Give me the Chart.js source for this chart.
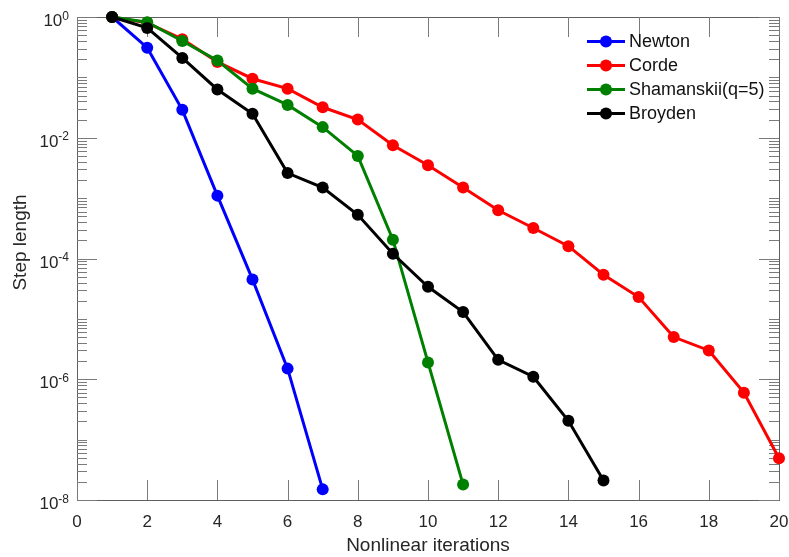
<!DOCTYPE html>
<html>
<head>
<meta charset="utf-8">
<script src="https://cdn.jsdelivr.net/npm/chart.js@4"></script>
<style>
  html, body { margin: 0; padding: 0; background: #fff; }
</style>
</head>
<body>
<canvas id="stepChart" width="789" height="557"></canvas>
<script>
// data (step length per nonlinear iteration)
const iterations = [1, 2, 3, 4, 5, 6, 7, 8, 9, 10, 11, 12, 13, 14, 15, 16, 17, 18, 19, 20];
const newton = [1, 0.31, 0.029, 1.1e-3, 4.5e-5, 1.5e-6, 1.5e-8];
const corde = [1, 0.8, 0.43, 0.18, 0.095, 0.065, 0.032, 0.02, 7.5e-3, 3.5e-3,
               1.5e-3, 6.3e-4, 3.2e-4, 1.6e-4, 5.4e-5, 2.3e-5, 5e-6, 3e-6, 6e-7, 4.9e-8];
const shamanskii = [1, 0.82, 0.4, 0.19, 0.065, 0.035, 0.015, 5e-3, 2.05e-4, 1.9e-6, 1.8e-8];
const broyden = [1, 0.66, 0.21, 0.063, 0.025, 2.6e-3, 1.5e-3, 5.3e-4, 1.2e-4, 3.4e-5,
                 1.3e-5, 2.1e-6, 1.1e-6, 2.05e-7, 2.1e-8];

const seriesNames = ["Newton", "Corde", "Shamanskii(q=5)", "Broyden"];
const xTickValues = [0, 2, 4, 6, 8, 10, 12, 14, 16, 18, 20];
const yTickValues = [1, 1e-2, 1e-4, 1e-6, 1e-8];
const yTickExps = ["0", "-2", "-4", "-6", "-8"];

const FONT = '"Liberation Sans", Arial, sans-serif';
const TEXT = "#262626";

function points(values) {
    return values.map((v, i) => ({ x: iterations[i], y: v }));
}

function makeSet(label, values, color, order) {
    return {
        label: label,
        data: points(values),
        borderColor: color,
        backgroundColor: color,
        pointBackgroundColor: color,
        pointBorderWidth: 0,
        pointRadius: 6,
        borderWidth: 3,
        tension: 0,
        clip: false,
        order: order
    };
}

// MATLAB-style frame: box, inward ticks, superscript labels, legend
const matlabAxes = {
    id: "matlabAxes",
    beforeDatasetsDraw(chart) {
        const ctx = chart.ctx;
        const a = chart.chartArea;
        const xs = chart.scales.x;
        const ys = chart.scales.y;
        ctx.save();
        ctx.strokeStyle = "#606060";
        ctx.lineWidth = 1;
        ctx.strokeRect(Math.round(a.left) + 0.5, Math.round(a.top) + 0.5,
                       Math.round(a.right - a.left), Math.round(a.bottom - a.top));

        ctx.strokeStyle = "#7a7a7a";
        ctx.beginPath();
        xTickValues.forEach(v => {
            const x = Math.round(xs.getPixelForValue(v)) + 0.5;
            ctx.moveTo(x, a.bottom); ctx.lineTo(x, a.bottom - 20);
            ctx.moveTo(x, a.top); ctx.lineTo(x, a.top + 20);
        });
        for (let k = -8; k < 0; k++) {
            for (let m = 1; m <= 9; m++) {
                const v = m * Math.pow(10, k);
                const major = m === 1 && k % 2 === 0;
                const len = major ? 20 : 10;
                const y = Math.round(ys.getPixelForValue(v)) + 0.5;
                ctx.moveTo(a.left, y); ctx.lineTo(a.left + len, y);
                ctx.moveTo(a.right, y); ctx.lineTo(a.right - len, y);
            }
        }
        const y0 = Math.round(ys.getPixelForValue(1)) + 0.5;
        ctx.moveTo(a.left, y0); ctx.lineTo(a.left + 20, y0);
        ctx.moveTo(a.right, y0); ctx.lineTo(a.right - 20, y0);
        ctx.stroke();
        ctx.restore();
    },
    afterDraw(chart) {
        const ctx = chart.ctx;
        const a = chart.chartArea;
        const ys = chart.scales.y;
        ctx.save();
        ctx.fillStyle = TEXT;
        ctx.textAlign = "right";
        ctx.textBaseline = "alphabetic";
        const rightEdge = a.left - 8;
        yTickValues.forEach((v, i) => {
            const y = ys.getPixelForValue(v);
            ctx.font = "12px " + FONT;
            const ew = ctx.measureText(yTickExps[i]).width;
            ctx.fillText(yTickExps[i], rightEdge, y + 2.5);
            ctx.font = "17px " + FONT;
            ctx.fillText("10", rightEdge - ew, y + 9);
        });

        // y title
        ctx.save();
        ctx.translate(21, (a.top + a.bottom) / 2 - 16);
        ctx.rotate(-Math.PI / 2);
        ctx.textAlign = "center";
        ctx.textBaseline = "middle";
        ctx.font = "19px " + FONT;
        ctx.fillText("Step length", 0, 0);
        ctx.restore();

        // legend
        const lx = a.right - 192;
        chart.data.datasets.forEach((ds, i) => {
            const ly = a.top + 24.5 + 24 * i;
            ctx.strokeStyle = ds.borderColor;
            ctx.lineWidth = 3;
            ctx.beginPath();
            ctx.moveTo(lx, ly); ctx.lineTo(lx + 38, ly);
            ctx.stroke();
            ctx.fillStyle = ds.borderColor;
            ctx.beginPath();
            ctx.arc(lx + 19, ly, 6, 0, Math.PI * 2);
            ctx.fill();
            ctx.fillStyle = "#111";
            ctx.textAlign = "left";
            ctx.textBaseline = "middle";
            ctx.font = "18px " + FONT;
            ctx.fillText(ds.label, lx + 42, ly + 1);
        });
        ctx.restore();
    }
};

document.addEventListener("DOMContentLoaded", function () {
    const ctx = document.getElementById("stepChart").getContext("2d");

    new Chart(ctx, {
        type: "line",
        data: {
            datasets: [
                makeSet(seriesNames[0], newton, "#0000ff", 3),
                makeSet(seriesNames[1], corde, "#ff0000", 2),
                makeSet(seriesNames[2], shamanskii, "#008000", 1),
                makeSet(seriesNames[3], broyden, "#000000", 0)
            ]
        },
        options: {
            responsive: false,
            animation: false,
            layout: { padding: { top: 17, right: 0, left: 0, bottom: 0 } },
            plugins: {
                legend: { display: false },
                tooltip: { enabled: false }
            },
            scales: {
                x: {
                    type: "linear",
                    min: 0,
                    max: 20,
                    afterFit: s => { s.height = 57; s.paddingRight = 10; },
                    afterBuildTicks: s => { s.ticks = xTickValues.map(v => ({ value: v })); },
                    grid: { display: false, drawTicks: false },
                    border: { display: false },
                    ticks: {
                        color: TEXT,
                        padding: 12,
                        maxRotation: 0,
                        font: { family: FONT, size: 17 }
                    },
                    title: {
                        display: true,
                        text: "Nonlinear iterations",
                        color: TEXT,
                        padding: { top: 0, bottom: 0 },
                        font: { family: FONT, size: 19 }
                    }
                },
                y: {
                    type: "logarithmic",
                    min: 1e-8,
                    max: 1,
                    afterFit: s => { s.width = 77; },
                    grid: { display: false, drawTicks: false },
                    border: { display: false },
                    ticks: { display: false }
                }
            }
        },
        plugins: [matlabAxes]
    });
});
</script>
</body>
</html>
